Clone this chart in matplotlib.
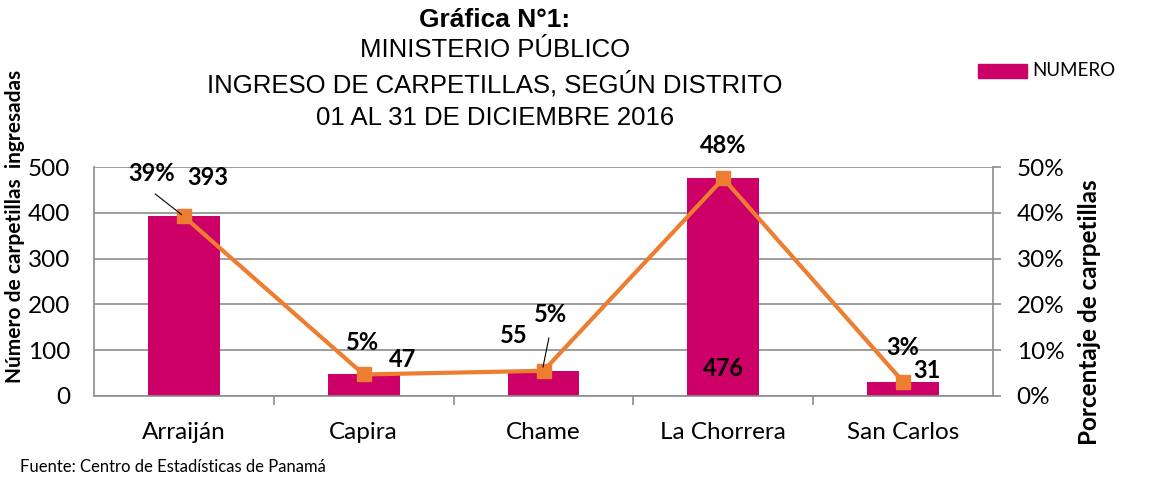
import matplotlib.pyplot as plt
from matplotlib.ticker import FuncFormatter

# data
distritos = ['Arraiján', 'Capira', 'Chame', 'La Chorrera', 'San Carlos']
numero = [393, 47, 55, 476, 31]
porcentaje = [39.2, 4.7, 5.5, 47.5, 3.1]
etiquetas_pct = ['39%', '5%', '5%', '48%', '3%']

bar_color = '#CC0066'
line_color = '#ED7D31'
grid_color = '#8C8C8C'
base_font = ['Lato', 'DejaVu Sans']
title_font = ['Liberation Sans Narrow', 'Liberation Sans', 'DejaVu Sans']

plt.rcParams['font.family'] = base_font

fig = plt.figure(figsize=(11.57, 4.8), dpi=100)
ax = fig.add_axes([94 / 1157, 84 / 480, 899 / 1157, 229 / 480])
x = list(range(len(distritos)))

ax.bar(x, numero, width=0.4, color=bar_color, zorder=2)
ax.set_ylim(0, 500)
ax.set_xlim(-0.5, 4.5)
ax.set_yticks([0, 100, 200, 300, 400, 500])
ax.yaxis.grid(True, color=grid_color, linewidth=1.2, zorder=0)
ax.set_axisbelow(True)
ax.tick_params(axis='y', length=0, labelsize=17.5, pad=17)
ax.set_xticks(x)
ax.set_xticklabels(distritos, fontsize=17.5)
ax.set_xticks([0.5, 1.5, 2.5, 3.5], minor=True)
ax.tick_params(axis='x', which='major', length=0, pad=19)
ax.tick_params(axis='x', which='minor', length=6.5, color=grid_color, width=1.2)
for s in ['left', 'right', 'bottom']:
    ax.spines[s].set_color(grid_color)
    ax.spines[s].set_linewidth(1.2)
ax.spines['top'].set_visible(False)
ax.set_ylabel('Número de carpetillas  ingresadas', fontsize=15, fontweight='bold')
ax.yaxis.set_label_coords(-0.077, 0.74)

ax2 = ax.twinx()
ax2.plot(x, porcentaje, color=line_color, linewidth=3, marker='s', markersize=10, zorder=3)
ax2.set_ylim(0, 50)
ax2.set_yticks([0, 10, 20, 30, 40, 50])
ax2.yaxis.set_major_formatter(FuncFormatter(lambda v, p: '%d%%' % v))
ax2.tick_params(axis='y', length=6, color=grid_color, width=1.2, labelsize=17.5, pad=11)
for s in ax2.spines.values():
    s.set_visible(False)
ax2.set_ylabel('Porcentaje de carpetillas', fontsize=17.5, fontweight='bold', rotation=90)
ax2.yaxis.set_label_coords(1.094, 0.367)

lab = dict(fontsize=17, fontweight='bold', ha='center', va='center')

# numero labels
ax.text(0.133, 476, '393', **lab)
ax.text(1.217, 79, '47', **lab)
ax.text(1.833, 133, '55', **lab)
ax.text(3, 59, '476', **lab)
ax.text(4.133, 55, '31', **lab)

# porcentaje labels
ax2.text(-0.178, 48.5, etiquetas_pct[0], **lab)
ax2.annotate('', xy=(0, porcentaje[0]), xytext=(-0.172, 44.5),
             arrowprops=dict(arrowstyle='-', color='black', lw=0.8))
ax2.text(0.994, 11.6, etiquetas_pct[1], **lab)
ax2.text(2.04, 17.7, etiquetas_pct[2], **lab)
ax2.annotate('', xy=(1.994, 5.7), xytext=(2.033, 13.3),
             arrowprops=dict(arrowstyle='-', color='black', lw=0.8))
ax2.text(3, 54.6, etiquetas_pct[3], **lab)
ax2.text(4, 10.5, etiquetas_pct[4], **lab)

# titles
fig.text(495 / 1157, 1 - 20 / 480, 'Gráfica N°1:', fontsize=19, fontweight='bold',
         ha='center', va='center', family=title_font)
fig.text(495 / 1157, 1 - 50 / 480, 'MINISTERIO PÚBLICO', fontsize=18.5,
         ha='center', va='center', family=title_font)
fig.text(495 / 1157, 1 - 84 / 480, 'INGRESO DE CARPETILLAS, SEGÚN DISTRITO', fontsize=18.5,
         ha='center', va='center', family=title_font)
fig.text(495 / 1157, 1 - 118 / 480, '01 AL 31 DE DICIEMBRE 2016', fontsize=18.5,
         ha='center', va='center', family=title_font)

# legend
fig.patches.append(plt.Rectangle((978 / 1157, 1 - 78 / 480), 49 / 1157, 14 / 480,
                                 transform=fig.transFigure, color=bar_color))
fig.text(1032 / 1157, 1 - 71 / 480, 'NUMERO', fontsize=13.5, va='center', ha='left')

fig.text(20 / 1157, 1 - 467 / 480, 'Fuente: Centro de Estadísticas de Panamá', fontsize=12,
         va='center', ha='left')

fig.savefig('out.png', dpi=100)
